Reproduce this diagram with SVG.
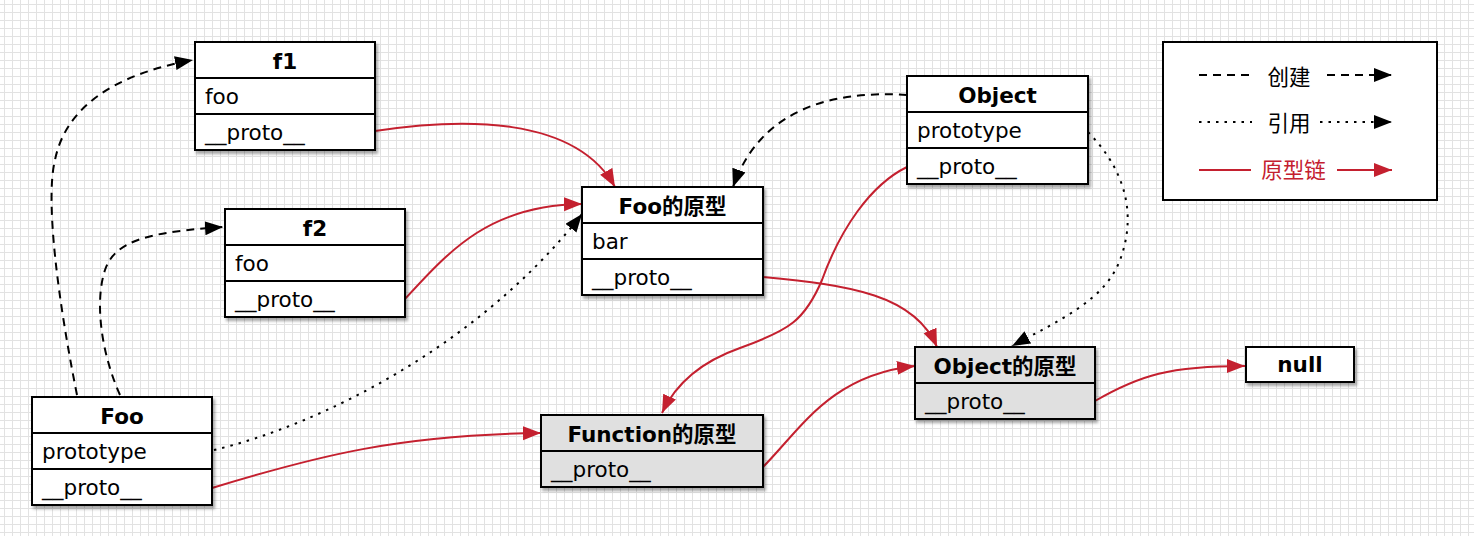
<svg xmlns="http://www.w3.org/2000/svg" width="1474" height="536" viewBox="0 0 1474 536">
<defs>
<pattern id="grid" x="4" y="4" width="8" height="8" patternUnits="userSpaceOnUse">
<rect x="0" y="0" width="8" height="1" fill="#e2e2e2"/>
<rect x="0" y="0" width="1" height="8" fill="#e2e2e2"/>
</pattern>
<filter id="sh" x="-10%" y="-10%" width="130%" height="140%">
<feDropShadow dx="2" dy="3" stdDeviation="1.8" flood-color="#000" flood-opacity="0.35"/>
</filter>
<marker id="ab" markerUnits="userSpaceOnUse" markerWidth="20" markerHeight="16" refX="18" refY="7" orient="auto">
<path d="M0,0 L18,7 L0,14 z" fill="#000"/>
</marker>
<marker id="ar" markerUnits="userSpaceOnUse" markerWidth="20" markerHeight="16" refX="18" refY="7" orient="auto">
<path d="M0,0 L18,7 L0,14 z" fill="#c4202f"/>
</marker>
</defs>
<style>
.box{fill:#fff;stroke:#000;stroke-width:2;filter:url(#sh)}
.gbox{fill:#e0e0e0;stroke:#000;stroke-width:2;filter:url(#sh)}
.sep{stroke:#000;stroke-width:2}
.h{font-family:"DejaVu Sans","Noto Sans CJK SC",sans-serif;font-size:21.5px;font-weight:bold;text-anchor:middle;fill:#000}
.f{font-family:"DejaVu Sans","Noto Sans CJK SC",sans-serif;font-size:21.5px;fill:#000}
.lg{font-family:"Noto Sans CJK SC",sans-serif;font-size:21.5px;text-anchor:middle;fill:#000}
.dash{fill:none;stroke:#000;stroke-width:2;stroke-dasharray:8 6}
.dot{fill:none;stroke:#000;stroke-width:2;stroke-dasharray:2.5 6}
.red{fill:none;stroke:#c4202f;stroke-width:2}
</style>
<rect width="1474" height="536" fill="#fff"/>
<rect width="1474" height="536" fill="url(#grid)"/>

<g id="connectors">
<path class="dash" d="M77,395 C58,300 45,200 55,160 C65,110 110,75 193,60" marker-end="url(#ab)"/>
<path class="dash" d="M120,395 C100,350 95,300 105,270 C115,240 150,232 223,227" marker-end="url(#ab)"/>
<path class="dot" d="M214,450 C320,425 480,345 582,214" marker-end="url(#ab)"/>
<path class="red" d="M212,488 C320,455 400,435 541,433" marker-end="url(#ar)"/>
<path class="red" d="M375,131 C460,118 575,115 615,187" marker-end="url(#ar)"/>
<path class="red" d="M405,299 C450,250 490,205 582,204" marker-end="url(#ar)"/>
<path class="dash" d="M907,95 C830,90 760,110 733,187" marker-end="url(#ab)"/>
<path class="red" d="M907,167 C870,185 840,230 822,280 C805,320 790,330 740,348 C700,362 675,385 662,413" marker-end="url(#ar)"/>
<path class="red" d="M763,277 C850,285 915,295 937,347" marker-end="url(#ar)"/>
<path class="dot" d="M1088,132 C1130,175 1135,220 1120,260 C1105,300 1060,320 1012,346" marker-end="url(#ab)"/>
<path class="red" d="M763,467 C800,430 830,375 915,366" marker-end="url(#ar)"/>
<path class="red" d="M1095,401 C1140,375 1170,366 1245,366" marker-end="url(#ar)"/>
</g>

<g id="f1">
<rect class="box" x="195" y="42" width="180" height="108"/>
<line class="sep" x1="195" y1="78" x2="375" y2="78"/>
<line class="sep" x1="195" y1="114" x2="375" y2="114"/>
<text class="h" x="285" y="68.5">f1</text>
<text class="f" x="205" y="104">foo</text>
<text class="f" x="205" y="140">__proto__</text>
</g>

<g id="f2">
<rect class="box" x="225" y="209" width="180" height="108"/>
<line class="sep" x1="225" y1="245" x2="405" y2="245"/>
<line class="sep" x1="225" y1="281" x2="405" y2="281"/>
<text class="h" x="315" y="235.5">f2</text>
<text class="f" x="235" y="271">foo</text>
<text class="f" x="235" y="307">__proto__</text>
</g>

<g id="fooProto">
<rect class="box" x="582" y="187" width="181" height="108"/>
<line class="sep" x1="582" y1="223" x2="763" y2="223"/>
<line class="sep" x1="582" y1="259" x2="763" y2="259"/>
<text class="h" x="672.5" y="213.5">Foo的原型</text>
<text class="f" x="592" y="249">bar</text>
<text class="f" x="592" y="285">__proto__</text>
</g>

<g id="object">
<rect class="box" x="907" y="76" width="181" height="108"/>
<line class="sep" x1="907" y1="112" x2="1088" y2="112"/>
<line class="sep" x1="907" y1="148" x2="1088" y2="148"/>
<text class="h" x="997.5" y="102.5">Object</text>
<text class="f" x="917" y="138">prototype</text>
<text class="f" x="917" y="174">__proto__</text>
</g>

<g id="foo">
<rect class="box" x="32" y="397" width="180" height="108"/>
<line class="sep" x1="32" y1="433" x2="212" y2="433"/>
<line class="sep" x1="32" y1="469" x2="212" y2="469"/>
<text class="h" x="122" y="423.5">Foo</text>
<text class="f" x="42" y="459">prototype</text>
<text class="f" x="42" y="495">__proto__</text>
</g>

<g id="funcProto">
<rect class="gbox" x="541" y="415" width="222" height="72"/>
<line class="sep" x1="541" y1="451" x2="763" y2="451"/>
<text class="h" x="652" y="441.5">Function的原型</text>
<text class="f" x="551" y="477">__proto__</text>
</g>

<g id="objProto">
<rect class="gbox" x="915" y="347" width="180" height="72"/>
<line class="sep" x1="915" y1="383" x2="1095" y2="383"/>
<text class="h" x="1005" y="373.5">Object的原型</text>
<text class="f" x="925" y="409">__proto__</text>
</g>

<g id="null">
<rect class="box" x="1246" y="347" width="108" height="35"/>
<text class="h" x="1300" y="372">null</text>
</g>

<g id="legend">
<rect x="1163" y="42" width="274" height="158" fill="#fff" stroke="#000" stroke-width="2"/>
<path class="dash" d="M1199,75 H1252"/>
<text class="lg" x="1289" y="85">创建</text>
<path class="dash" d="M1327,75 H1392" marker-end="url(#ab)"/>
<path class="dot" d="M1199,122 H1252"/>
<text class="lg" x="1289" y="130.5">引用</text>
<path class="dot" d="M1320,122 H1392" marker-end="url(#ab)"/>
<path class="red" d="M1199,170 H1251"/>
<text class="lg" x="1293.5" y="177.5" style="fill:#c4202f">原型链</text>
<path class="red" d="M1337,170 H1392" marker-end="url(#ar)"/>
</g>
</svg>
